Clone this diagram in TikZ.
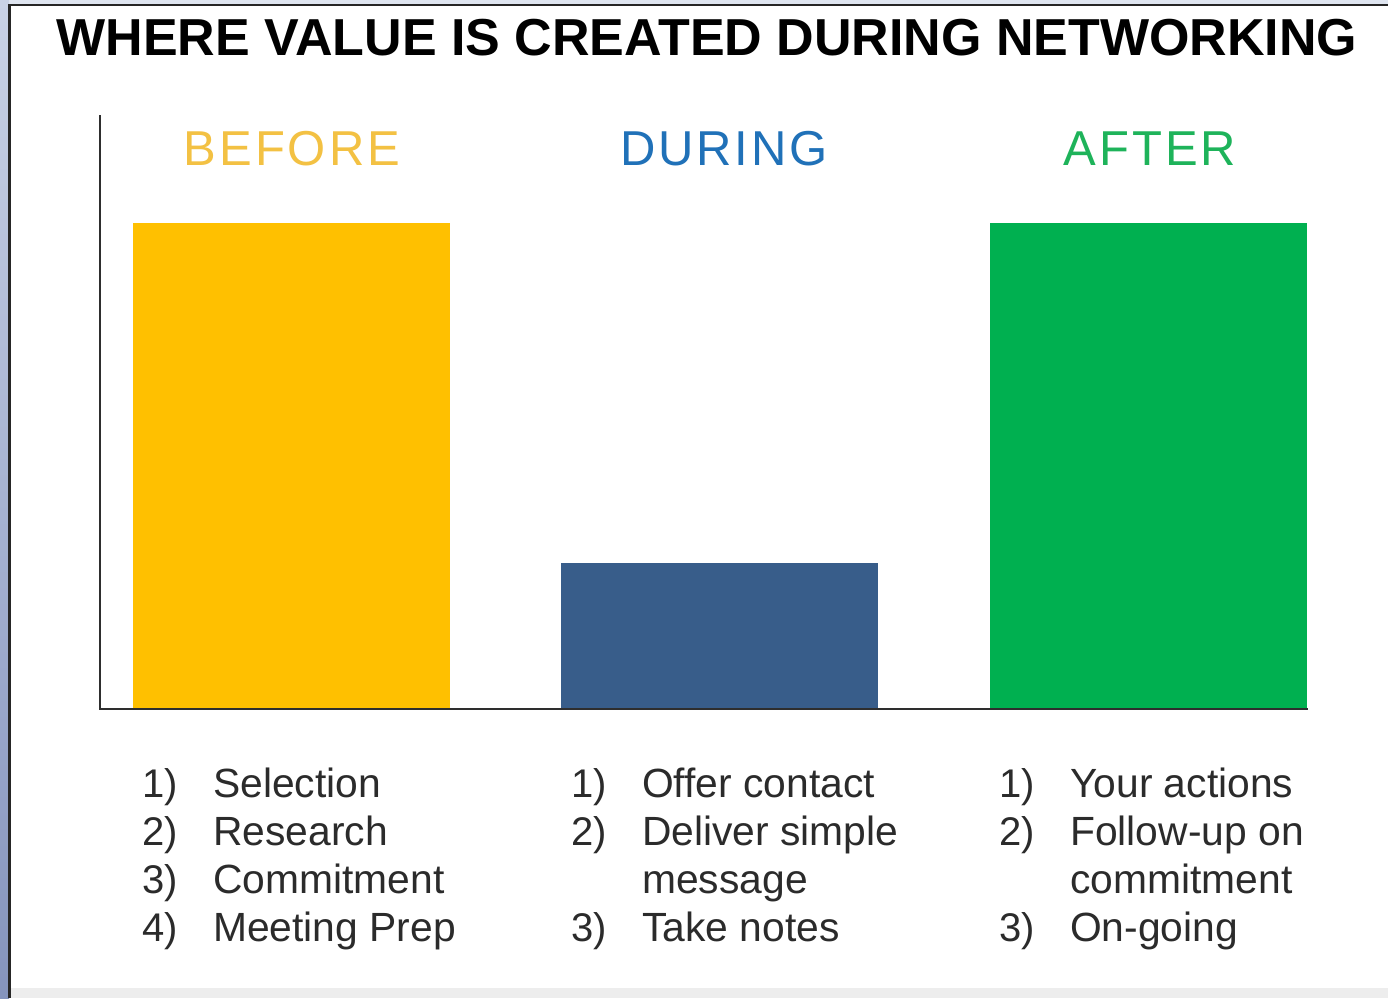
\documentclass[tikz,border=0pt]{standalone}
\usepackage{fontspec}
\setmainfont{Liberation Sans}
\newfontfamily\hdrfont[LetterSpace=6]{Liberation Sans}
\definecolor{bgblue}{HTML}{DFE5F0}
\definecolor{edgetop}{HTML}{C9D2E6}
\definecolor{edgebot}{HTML}{8594BD}
\definecolor{barY}{HTML}{FFC000}
\definecolor{barB}{HTML}{385D8A}
\definecolor{barG}{HTML}{00B050}
\definecolor{hdrY}{HTML}{F3C143}
\definecolor{hdrB}{HTML}{2071B8}
\definecolor{hdrG}{HTML}{1EB35A}
\definecolor{txt}{HTML}{2B2B2B}
\definecolor{axis}{HTML}{2E2E2E}
\tikzset{
  titletext/.style={anchor=base, inner sep=0pt, font=\fontsize{52}{60}\selectfont\bfseries, text=black},
  hdr/.style={anchor=base, inner sep=0pt, font=\hdrfont\fontsize{49}{56}\selectfont},
  num/.style={anchor=base west, inner sep=0pt, font=\fontsize{40}{48}\selectfont, text=txt},
  item/.style={anchor=base west, inner sep=0pt, font=\fontsize{40.8}{48}\selectfont, text=txt},
}
\begin{document}
\begin{tikzpicture}[x=1pt,y=-1pt]
\useasboundingbox (0,0) rectangle (1388,998);
% background and frame
\fill[bgblue] (0,0) rectangle (1388,998);
\shade[top color=edgetop, bottom color=edgebot] (0,0) rectangle (9,998);
\fill[white] (10,5) rectangle (1388,988);
\fill[black!7] (10,988) rectangle (1388,998);
\draw[line width=2.5pt, black!85] (9.5,998) -- (9.5,5) -- (1388,5);
% title
\node[titletext] (title) at (707,56) {WHERE VALUE IS CREATED DURING NETWORKING};
% headers
\node[hdr, text=hdrY] (hbefore) at (292,165) {BEFORE};
\node[hdr, text=hdrB] (hduring) at (724,165) {DURING};
\node[hdr, text=hdrG] (hafter) at (1150,165) {AFTER};
% bars
\fill[barY] (133,223) rectangle (450,709);
\fill[barB] (561,563) rectangle (878,709);
\fill[barG] (990,223) rectangle (1307,709);
% axes
\draw[line width=2pt, axis] (100,115) -- (100,709) -- (1308,709);
% column 1
\node[num] (a1n) at (142,797) {1)};
\node[item] (a1) at (213,797) {Selection};
\node[num] (a2n) at (142,845) {2)};
\node[item] (a2) at (213,845) {Research};
\node[num] (a3n) at (142,893) {3)};
\node[item] (a3) at (213,893) {Commitment};
\node[num] (a4n) at (142,941) {4)};
\node[item] (a4) at (213,941) {Meeting Prep};
% column 2
\node[num] (b1n) at (571,797) {1)};
\node[item] (b1) at (642,797) {Offer contact};
\node[num] (b2n) at (571,845) {2)};
\node[item] (b2) at (642,845) {Deliver simple};
\node[item] (b2b) at (642,893) {message};
\node[num] (b3n) at (571,941) {3)};
\node[item] (b3) at (642,941) {Take notes};
% column 3
\node[num] (c1n) at (999,797) {1)};
\node[item] (c1) at (1070,797) {Your actions};
\node[num] (c2n) at (999,845) {2)};
\node[item] (c2) at (1070,845) {Follow-up on};
\node[item] (c2b) at (1070,893) {commitment};
\node[num] (c3n) at (999,941) {3)};
\node[item] (c3) at (1070,941) {On-going};
\end{tikzpicture}
\end{document}
